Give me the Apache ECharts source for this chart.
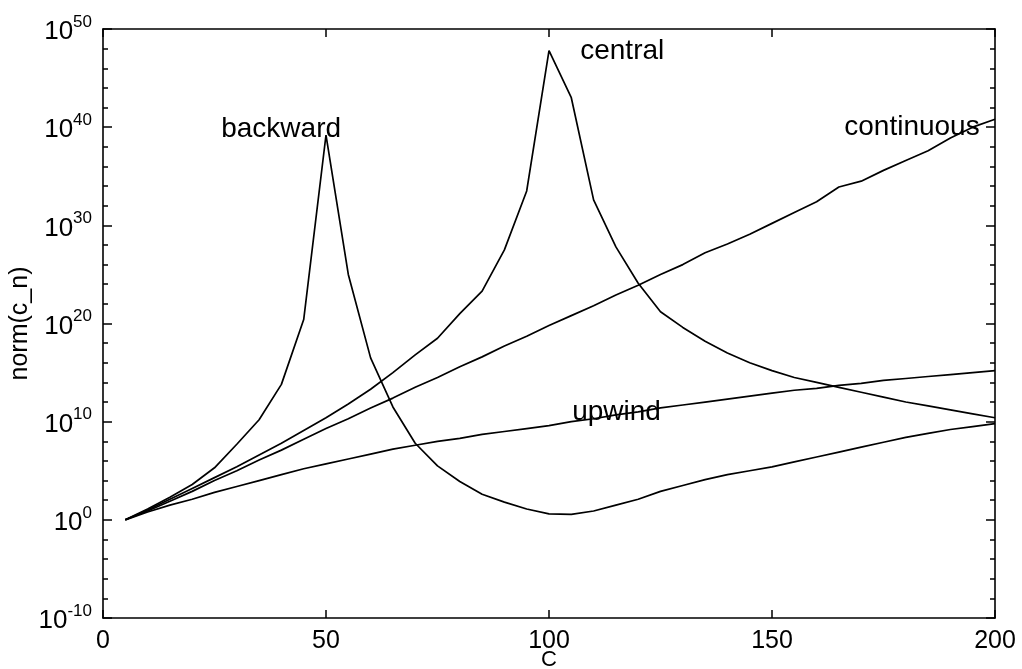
<!DOCTYPE html>
<html>
<head>
<meta charset="utf-8">
<script src="https://cdn.jsdelivr.net/npm/echarts@6/dist/echarts.min.js"></script>
<style>
html, body { margin: 0; background: #fff; }
#main { width: 1022px; height: 669px; }
</style>
</head>
<body>
<div id="main"></div>
<script>
var FONT = '"Liberation Sans", Arial, Helvetica, sans-serif';

// C values (x axis)
var cValues = [5, 10, 15, 20, 25, 30, 35, 40, 45, 50, 55, 60, 65, 70, 75, 80, 85, 90, 95, 100,
    105, 110, 115, 120, 125, 130, 135, 140, 145, 150, 155, 160, 165, 170, 175, 180, 185, 190, 195, 200];

// log10(norm(c_n)), one per C value
var backwardLog = [0, 1.1, 2.3, 3.6, 5.3, 7.7, 10.2, 13.8, 20.4, 39.2, 25.0, 16.5, 11.5, 7.8, 5.5, 3.9, 2.6, 1.8, 1.1, 0.6,
    0.55, 0.9, 1.5, 2.1, 2.9, 3.5, 4.1, 4.6, 5.0, 5.4, 5.9, 6.4, 6.9, 7.4, 7.9, 8.4, 8.8, 9.2, 9.5, 9.8];
var centralLog = [0, 1.0, 2.1, 3.2, 4.3, 5.4, 6.6, 7.8, 9.1, 10.4, 11.8, 13.3, 15.0, 16.8, 18.5, 21.0, 23.3, 27.5, 33.5, 47.8,
    43.0, 32.6, 27.8, 24.1, 21.2, 19.6, 18.2, 17.0, 16.0, 15.2, 14.5, 14.0, 13.5, 13.0, 12.5, 12.0, 11.6, 11.2, 10.8, 10.4];
var continuousLog = [0, 0.9, 1.9, 2.9, 4.0, 5.0, 6.1, 7.1, 8.2, 9.3, 10.3, 11.4, 12.4, 13.5, 14.5, 15.6, 16.6, 17.7, 18.7, 19.8,
    20.8, 21.8, 22.9, 23.9, 25.0, 26.0, 27.2, 28.1, 29.1, 30.2, 31.3, 32.4, 33.9, 34.5, 35.6, 36.6, 37.6, 38.9, 40.0, 40.8];
var upwindLog = [0, 0.8, 1.5, 2.1, 2.8, 3.4, 4.0, 4.6, 5.2, 5.7, 6.2, 6.7, 7.2, 7.6, 8.0, 8.3, 8.7, 9.0, 9.3, 9.6,
    10.0, 10.3, 10.7, 11.0, 11.4, 11.7, 12.0, 12.3, 12.6, 12.9, 13.2, 13.4, 13.7, 13.9, 14.2, 14.4, 14.6, 14.8, 15.0, 15.2];

// curve names and where their text sits (C, log10)
var curveNames = ['backward', 'central', 'continuous', 'upwind'];
var labelC = [26.5, 107, 166.2, 105.2];
var labelLog = [39.8, 47.7, 40.0, 11.0];

var curves = [backwardLog, centralLog, continuousLog, upwindLog];

function pairs(ys) {
    return cValues.map(function (c, i) { return [c, ys[i]]; });
}

var lineAxis = { show: true, onZero: false, lineStyle: { color: '#000', width: 1.6 } };
var tickStyle = { color: '#000', width: 1.5 };

var series = curves.map(function (ys, k) {
    return {
        name: curveNames[k],
        type: 'line',
        data: pairs(ys),
        symbol: 'none',
        lineStyle: { color: '#000', width: 1.7 },
        markPoint: {
            symbol: 'circle',
            symbolSize: 0,
            data: [{ coord: [labelC[k], labelLog[k]] }],
            label: {
                show: true,
                position: 'right',
                distance: 0,
                formatter: curveNames[k],
                color: '#000',
                fontFamily: FONT,
                fontSize: 28
            }
        }
    };
});

var chart = echarts.init(document.getElementById('main'));
chart.setOption({
    animation: false,
    backgroundColor: '#fff',
    grid: { left: 103, right: 27, top: 29, bottom: 51, containLabel: false, outerBoundsMode: 'none' },
    xAxis: [{
        type: 'value', min: 0, max: 200, interval: 50,
        position: 'bottom',
        name: 'C', nameLocation: 'middle', nameGap: 31, nameMoveOverlap: false,
        nameTextStyle: { color: '#000', fontFamily: FONT, fontSize: 22 },
        axisLine: lineAxis,
        axisTick: { inside: true, length: 8, lineStyle: tickStyle },
        axisLabel: { color: '#000', fontFamily: FONT, fontSize: 25, margin: 11 },
        splitLine: { show: false }
    }, {
        type: 'value', min: 0, max: 200, interval: 50,
        position: 'top',
        axisLine: lineAxis,
        axisTick: { inside: true, length: 8, lineStyle: tickStyle },
        axisLabel: { show: false },
        splitLine: { show: false }
    }],
    yAxis: [{
        type: 'value', min: -10, max: 50, interval: 10,
        position: 'left',
        name: 'norm(c_n)', nameLocation: 'middle', nameGap: 70, nameMoveOverlap: false,
        nameTextStyle: { color: '#000', fontFamily: FONT, fontSize: 25 },
        axisLine: lineAxis,
        axisTick: { inside: true, length: 9, lineStyle: tickStyle },
        minorTick: { show: true, splitNumber: 5, length: 5, lineStyle: tickStyle },
        axisLabel: {
            margin: 11,
            formatter: function (v) { return '{b|10}{s|' + v + '}'; },
            rich: {
                b: { color: '#000', fontFamily: FONT, fontSize: 26, padding: [6, 0, 0, 0] },
                s: { color: '#000', fontFamily: FONT, fontSize: 17, padding: [0, 0, 14, 0] }
            }
        },
        splitLine: { show: false }
    }, {
        type: 'value', min: -10, max: 50, interval: 10,
        position: 'right',
        axisLine: lineAxis,
        axisTick: { inside: true, length: 9, lineStyle: tickStyle },
        minorTick: { show: true, splitNumber: 5, length: 5, lineStyle: tickStyle },
        axisLabel: { show: false },
        splitLine: { show: false }
    }],
    series: series
});
</script>
</body>
</html>
